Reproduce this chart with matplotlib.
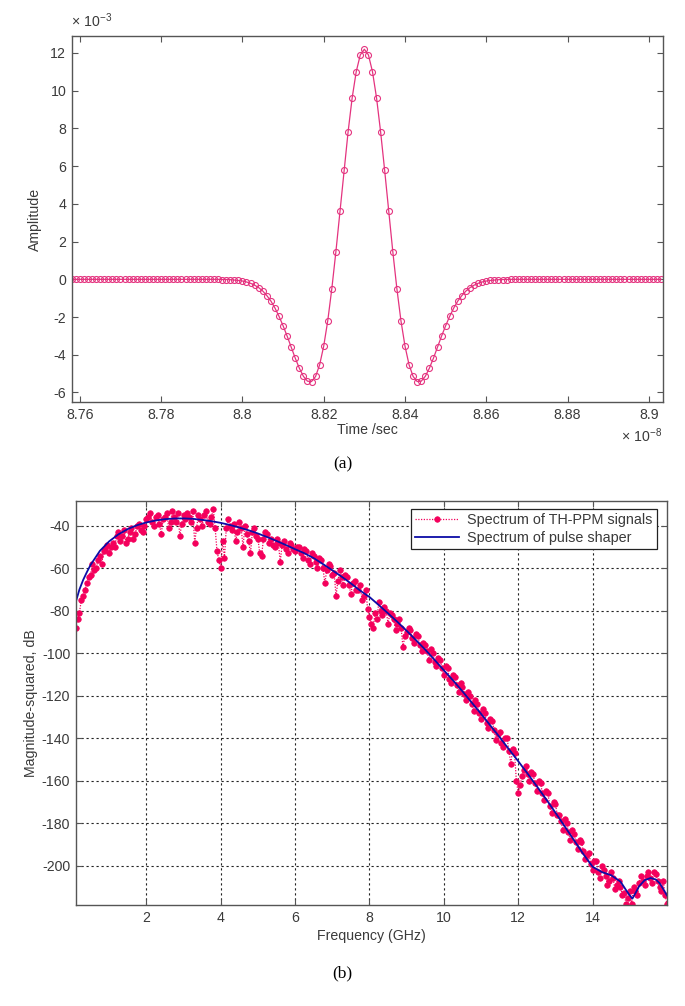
import matplotlib
matplotlib.use('Agg')
import matplotlib.pyplot as plt
import numpy as np

plt.rcParams['font.family'] = ['Liberation Sans', 'DejaVu Sans']
plt.rcParams['axes.unicode_minus'] = False
plt.rcParams['mathtext.fontset'] = 'custom'
plt.rcParams['mathtext.rm'] = 'Liberation Sans'

# ---- (a) pulse shape, time in units of 1e-8 s, amplitude in units of 1e-3
t_start = 8.758
t_step = 0.001
amplitude = [
    0.00, 0.00, 0.00, 0.00, 0.00, 0.00, 0.00, 0.00, 0.00, 0.00, 0.00, 0.00,
    0.00, 0.00, 0.00, 0.00, 0.00, 0.00, 0.00, 0.00, 0.00, 0.00, 0.00, 0.00,
    0.00, 0.00, 0.00, 0.00, 0.00, 0.00, 0.00, 0.00, 0.00, 0.00, 0.00, 0.00,
    0.00, -0.01, -0.01, -0.02, -0.04, -0.06, -0.09, -0.14, -0.21, -0.31, -0.44, -0.62,
    -0.86, -1.15, -1.52, -1.96, -2.46, -3.01, -3.60, -4.18, -4.71, -5.14, -5.40, -5.42,
    -5.15, -4.53, -3.54, -2.19, -0.49, 1.47, 3.60, 5.77, 7.82, 9.62, 11.01, 11.90,
    12.20, 11.90, 11.01, 9.62, 7.82, 5.77, 3.60, 1.47, -0.49, -2.19, -3.54, -4.53,
    -5.15, -5.42, -5.40, -5.14, -4.71, -4.18, -3.60, -3.01, -2.46, -1.96, -1.52, -1.15,
    -0.86, -0.62, -0.44, -0.31, -0.21, -0.14, -0.09, -0.06, -0.04, -0.02, -0.01, -0.01,
    0.00, 0.00, 0.00, 0.00, 0.00, 0.00, 0.00, 0.00, 0.00, 0.00, 0.00, 0.00,
    0.00, 0.00, 0.00, 0.00, 0.00, 0.00, 0.00, 0.00, 0.00, 0.00, 0.00, 0.00,
    0.00, 0.00, 0.00, 0.00, 0.00, 0.00, 0.00, 0.00, 0.00, 0.00, 0.00, 0.00,
    0.00, 0.00,
]
time_ticks = [8.76, 8.78, 8.80, 8.82, 8.84, 8.86, 8.88, 8.90]
time_labels = ['8.76', '8.78', '8.8', '8.82', '8.84', '8.86', '8.88', '8.9']
amp_ticks = [-6, -4, -2, 0, 2, 4, 6, 8, 10, 12]

# ---- (b) spectra
shaper_freq = [0.1, 0.2, 0.3, 0.4, 0.5, 0.75, 1.0, 1.25, 1.5, 1.75, 2.0, 2.25, 2.5,
               2.75, 3.0, 3.25, 3.5, 3.75, 4.0, 4.25, 4.5, 4.75, 5.0, 5.25, 5.5, 5.75,
               6.0, 6.25, 6.5, 6.75, 7.0, 7.25, 7.5, 7.75, 8.0, 8.25, 8.5, 8.75, 9.0,
               9.25, 9.5, 9.75, 10.0, 10.25, 10.5, 10.75, 11.0, 11.25, 11.5, 11.75,
               12.0, 12.25, 12.5, 12.75, 13.0, 13.25, 13.5, 13.75, 14.0, 14.25, 14.5,
               14.75, 14.9, 15.0, 15.07, 15.15, 15.25, 15.4, 15.56, 15.7, 15.8, 15.9, 16.0]
shaper_db = [-76, -70, -65.5, -61.8, -58.4, -51.8, -47.3, -44.0, -41.5, -39.7, -38.4,
             -37.5, -36.85, -36.55, -36.5, -36.7, -37.2, -37.8, -38.6, -39.6, -40.8,
             -42.1, -43.6, -45.3, -47.1, -49.0, -51.0, -52.9, -55.2, -58.0, -60.9,
             -63.9, -67.1, -70.5, -73.5, -77.3, -81.2, -85.2, -89.4, -93.8, -98.3,
             -103.1, -108.0, -112.8, -117.9, -123.2, -128.5, -134.0, -139.5, -145.2,
             -150.8, -156.6, -162.6, -168.7, -175.0, -181.5, -188.0, -194.5, -200.5,
             -203.0, -204.5, -207.5, -211.5, -214.0, -215.5, -213.0, -209.7, -206.8,
             -205.8, -206.5, -208.2, -211.0, -214.0]

# TH-PPM spectrum, one value every 0.05 GHz from 0.1 to 16 GHz
sig_f_start = 0.1
sig_f_step = 0.05
signal_db = [
    -88, -84, -81, -75, -73, -70, -67, -64, -63, -58, -61, -60, -56, -54, -58, -52, -51, -49, -53, -50,
    -48, -50, -45, -43, -47, -45, -42, -48, -46, -43, -41, -46, -44, -40, -39, -42, -43, -40, -37, -36,
    -34, -38, -40, -36, -35, -39, -44, -37, -36, -34, -41, -38, -33, -36, -38, -34, -45, -39, -35, -37,
    -34, -36, -38, -33, -48, -41, -35, -37, -40, -35, -33, -38, -39, -36, -32, -41, -52, -56, -60, -47,
    -55, -41, -37, -40, -42, -39, -47, -43, -38, -41, -50, -40, -44, -47, -53, -43, -41, -45, -46, -53,
    -54, -46, -43, -44, -48, -46, -49, -50, -46, -48, -57, -49, -47, -51, -53, -48, -49, -51, -52, -50,
    -50, -53, -55, -51, -52, -56, -58, -53, -54, -57, -60, -55, -56, -60, -67, -61, -58, -59, -63, -62,
    -73, -66, -61, -64, -68, -63, -64, -68, -72, -67, -66, -70, -70, -68, -75, -73, -70, -79, -83, -86,
    -88, -81, -84, -76, -80, -82, -78, -80, -86, -81, -82, -84, -89, -86, -84, -88, -97, -92, -90, -88,
    -89, -93, -95, -91, -92, -96, -99, -95, -96, -99, -103, -98, -100, -104, -106, -102, -103, -107, -110, -106,
    -107, -112, -114, -110, -111, -115, -118, -114, -116, -119, -122, -118, -120, -124, -127, -122, -124, -128, -131, -126,
    -128, -133, -135, -131, -132, -136, -141, -138, -137, -142, -144, -140, -140, -146, -152, -145, -147, -160, -166, -162,
    -158, -155, -153, -157, -160, -156, -157, -161, -165, -160, -161, -166, -169, -165, -166, -172, -175, -170, -171, -176,
    -176, -179, -183, -178, -180, -184, -188, -183, -185, -189, -192, -188, -189, -193, -197, -195, -194, -199, -202, -198,
    -198, -203, -206, -200, -202, -205, -209, -207, -203, -206, -211, -209, -207, -210, -214, -213, -218, -215, -212, -218,
    -210, -212, -214, -208, -205, -207, -209, -205, -203, -206, -208, -203, -204, -207, -210, -212, -207, -214, -218,
]
freq_ticks = [2, 4, 6, 8, 10, 12, 14]
db_ticks = [-200, -180, -160, -140, -120, -100, -80, -60, -40]

pink = '#e4337f'
red = '#f4005c'
blue = '#0c0ca6'
txt = '#3a3a3a'
spine = '#555555'
fs = 10.2


def style(ax):
    for s in ax.spines.values():
        s.set_color(spine)
        s.set_linewidth(1.0)
    ax.tick_params(direction='in', top=True, right=True, length=4, width=0.8,
                   colors=spine, labelcolor=txt, labelsize=fs, pad=4)


fig = plt.figure(figsize=(6.85, 10.06), dpi=100)

ax1 = fig.add_axes([0.1047, 0.6001, 0.8633, 0.3641])
t = t_start + t_step * np.arange(len(amplitude))
ax1.plot(t, amplitude, '-', color=pink, lw=0.9, marker='o', ms=4.3,
         mfc='none', mec=pink, mew=0.8)
ax1.set_xlim(8.758, 8.9035)
ax1.set_ylim(-6.52, 12.9)
ax1.set_xticks(time_ticks)
ax1.set_xticklabels(time_labels)
ax1.set_yticks(amp_ticks)
style(ax1)
ax1.set_xlabel('Time /sec', fontsize=fs, color=txt, labelpad=1)
ax1.set_ylabel('Amplitude', fontsize=fs, color=txt, labelpad=6)
fig.text(71 / 685, 1 - 27 / 1006, r'$\times\ 10^{-3}$', fontsize=fs, color=txt)
fig.text(621 / 685, 1 - 442 / 1006, r'$\times\ 10^{-8}$', fontsize=fs, color=txt)
fig.text(0.5, 1 - 468 / 1006, '(a)', ha='center', fontsize=12.5,
         family=['Liberation Serif', 'DejaVu Serif'])

ax2 = fig.add_axes([0.1105, 0.1004, 0.8632, 0.4016])
f_sig = sig_f_start + sig_f_step * np.arange(len(signal_db))
ax2.plot(f_sig, signal_db, linestyle=(0, (1, 1.2)), color=red, lw=0.9,
         marker='o', ms=4.0, mfc=red, mec=red, mew=0.5,
         label='Spectrum of TH-PPM signals')
ax2.plot(shaper_freq, shaper_db, '-', color=blue, lw=1.3,
         label='Spectrum of pulse shaper')
ax2.set_xlim(0.1, 16.0)
ax2.set_ylim(-218.5, -28.3)
ax2.set_xticks(freq_ticks)
ax2.set_yticks(db_ticks)
ax2.grid(True, color='#222222', linestyle=(0, (2, 2.5)), linewidth=0.8)
style(ax2)
ax2.set_xlabel('Frequency (GHz)', fontsize=fs, color=txt, labelpad=3)
ax2.set_ylabel('Magnitude-squared, dB', fontsize=fs, color=txt, labelpad=3)
leg = ax2.legend(loc='upper right', bbox_to_anchor=(0.983, 0.98), borderaxespad=0,
                 fontsize=fs + 0.2, fancybox=False, framealpha=1, edgecolor='#222222',
                 handlelength=3.0, handletextpad=0.6, borderpad=0.3, labelspacing=0.25)
leg.get_frame().set_linewidth(0.9)
for tx in leg.get_texts():
    tx.set_color(txt)
fig.text(0.5, 1 - 977 / 1006, '(b)', ha='center', fontsize=12.5,
         family=['Liberation Serif', 'DejaVu Serif'])

fig.savefig('out.png', dpi=100)
